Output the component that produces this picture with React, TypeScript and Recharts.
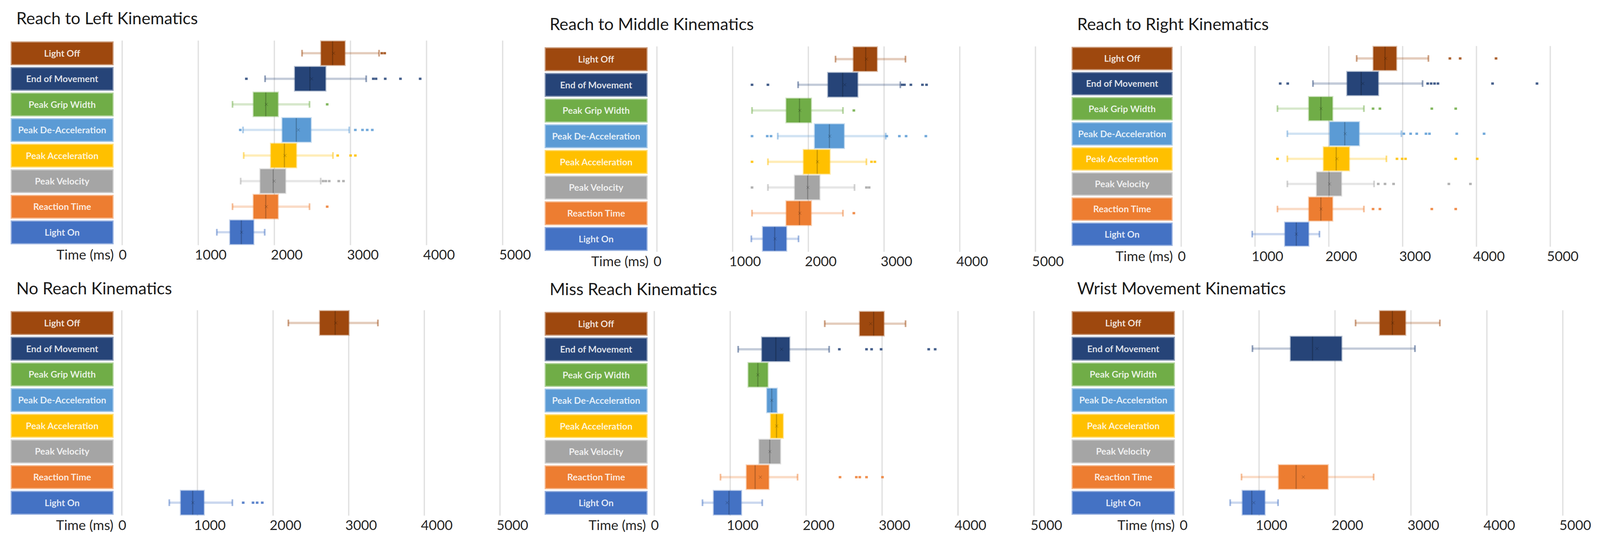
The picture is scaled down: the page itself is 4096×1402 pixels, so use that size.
import React from 'react';
import { ComposedChart, Bar, XAxis, YAxis, CartesianGrid } from 'recharts';

// everything is laid out in reference pixels, then scaled to the window
const S = 0.973;
const FONT = 'Lato, "Open Sans", sans-serif';

const CATEGORIES = [
  'Light Off',
  'End of Movement',
  'Peak Grip Width',
  'Peak De-Acceleration',
  'Peak Acceleration',
  'Peak Velocity',
  'Reaction Time',
  'Light On',
];
const COLORS = ['#9E480E', '#264478', '#70AD47', '#5B9BD5', '#FFC000', '#A5A5A5', '#ED7D31', '#4472C4'];
const TICKS = [0, 1000, 2000, 3000, 4000, 5000];

// [min, q1, median, q3, max] per category, null where the panel has no box
type Five = [number, number, number, number, number] | null;

const leftStats: Five[] = [
  [2364, 2614, 2765, 2926, 3376],
  [1878, 2270, 2467, 2672, 3207],
  [1450, 1726, 1887, 2047, 2462],
  [1588, 2105, 2288, 2480, 2984],
  [1597, 1954, 2132, 2288, 2770],
  [1557, 1815, 1985, 2145, 2609],
  [1450, 1726, 1887, 2047, 2462],
  [1244, 1418, 1566, 1726, 1873],
];
const leftMeans = [2779, 2489, 1895, 2315, 2140, 1998, 1895, 1570];
const leftOutliers = [
  [3412, 3450],
  [1632, 3300, 3336, 3457, 3657, 3916],
  [2694],
  [1552, 3064, 3158, 3220, 3287],
  [2832, 3002, 3064],
  [2640, 2676, 2721, 2846, 2908],
  [2694],
  [],
];

const middleStats: Five[] = [
  [2359, 2596, 2758, 2906, 3283],
  [1865, 2260, 2453, 2650, 3215],
  [1256, 1709, 1883, 2036, 2457],
  [1596, 2085, 2278, 2471, 3022],
  [1466, 1937, 2117, 2283, 2767],
  [1466, 1821, 1991, 2148, 2610],
  [1256, 1709, 1883, 2036, 2457],
  [1247, 1399, 1556, 1709, 1870],
];
const middleMeans = [2767, 2480, 1887, 2283, 2122, 1995, 1887, 1560];
const middleOutliers = [
  [],
  [1256, 1466, 3238, 3269, 3354, 3507, 3561],
  [2601],
  [1256, 1457, 1507, 3036, 3202, 3291, 3552],
  [1256, 2834, 2879],
  [1256, 2767, 2803],
  [2601],
  [],
];

const rightStats: Five[] = [
  [2377, 2604, 2761, 2914, 3349],
  [1785, 2248, 2438, 2669, 3270],
  [1304, 1730, 1892, 2049, 2475],
  [1438, 2012, 2216, 2410, 2983],
  [1438, 1929, 2100, 2276, 2780],
  [1438, 1836, 2003, 2169, 2613],
  [1304, 1730, 1892, 2049, 2475],
  [962, 1406, 1559, 1725, 1873],
];
const rightMeans = [2770, 2460, 1895, 2222, 2110, 2010, 1895, 1560];
const rightOutliers = [
  [3640, 3779, 4265],
  [1341, 1443, 3339, 3386, 3432, 3478, 4218, 4820],
  [2599, 2692, 3395, 3719],
  [3016, 3108, 3191, 3316, 3363, 3733, 4103],
  [1304, 2923, 2993, 3039, 3719, 4010],
  [2669, 2761, 2877, 3626, 3918],
  [2599, 2692, 3395, 3719],
  [],
];

const noReachStats: Five[] = [
  [2202, 2619, 2821, 3000, 3386],
  null,
  null,
  null,
  null,
  null,
  null,
  [628, 780, 937, 1085, 1462],
];
const noReachMeans = [2830, null, null, null, null, null, null, 940];
const noReachOutliers = [[], [], [], [], [], [], [], [1605, 1735, 1789, 1857]];

const missStats: Five[] = [
  [2245, 2706, 2889, 3023, 3309],
  [1105, 1418, 1601, 1780, 2303],
  [1239, 1239, 1364, 1494, 1494],
  [1485, 1485, 1547, 1614, 1614],
  [1534, 1534, 1610, 1695, 1695],
  [1382, 1382, 1521, 1659, 1659],
  [872, 1216, 1328, 1507, 1887],
  [635, 783, 984, 1145, 1422],
];
const missMeans = [2850, 1677, 1364, 1547, 1612, 1522, 1397, 960];
const missOutliers = [
  [],
  [2437, 2795, 2862, 2987, 3614, 3699],
  [],
  [],
  [],
  [],
  [2446, 2661, 2706, 2795, 3005],
  [],
];

const wristStats: Five[] = [
  [2271, 2590, 2756, 2927, 3381],
  [913, 1416, 1704, 2086, 3053],
  null,
  null,
  null,
  null,
  [769, 1259, 1488, 1906, 2509],
  [620, 782, 904, 1075, 1250],
];
const wristMeans = [2760, 1763, null, null, null, null, 1583, 930];
const wristOutliers = [[], [], [], [], [], [], [], []];

interface Panel {
  title: string;
  stats: Five[];
  means: (number | null)[];
  outliers: number[][];
  titleX: number;
  titleY: number;
  plotL: number;
  plotR: number;
  labelTop: number;
  labelBottom: number;
  labelRight: number;
  labelW: number;
}

const PANELS: Panel[] = [
  { title: 'Reach to Left Kinematics', stats: leftStats, means: leftMeans, outliers: leftOutliers,
    titleX: 43, titleY: 47, plotL: 321, plotR: 1322, labelTop: 111, labelBottom: 641, labelRight: 297, labelW: 268 },
  { title: 'Reach to Middle Kinematics', stats: middleStats, means: middleMeans, outliers: middleOutliers,
    titleX: 1446, titleY: 63, plotL: 1728, plotR: 2724, labelTop: 126, labelBottom: 658, labelRight: 1702, labelW: 268 },
  { title: 'Reach to Right Kinematics', stats: rightStats, means: rightMeans, outliers: rightOutliers,
    titleX: 2834, titleY: 63, plotL: 3108, plotR: 4079, labelTop: 125, labelBottom: 645, labelRight: 3084, labelW: 263 },
  { title: 'No Reach Kinematics', stats: noReachStats, means: noReachMeans, outliers: noReachOutliers,
    titleX: 43, titleY: 757, plotL: 320, plotR: 1315, labelTop: 820, labelBottom: 1352, labelRight: 297, labelW: 268 },
  { title: 'Miss Reach Kinematics', stats: missStats, means: missMeans, outliers: missOutliers,
    titleX: 1446, titleY: 759, plotL: 1721, plotR: 2720, labelTop: 822, labelBottom: 1352, labelRight: 1702, labelW: 268 },
  { title: 'Wrist Movement Kinematics', stats: wristStats, means: wristMeans, outliers: wristOutliers,
    titleX: 2834, titleY: 757, plotL: 3113, plotR: 4112, labelTop: 820, labelBottom: 1352, labelRight: 3090, labelW: 269 },
];

const tint = (hex: string, t: number) => {
  const n = parseInt(hex.slice(1), 16);
  const mix = (c: number) => Math.round(c + (255 - c) * t);
  return `rgb(${mix((n >> 16) & 255)},${mix((n >> 8) & 255)},${mix(n & 255)})`;
};

const buildRows = (panel: Panel) =>
  CATEGORIES.map((name, idx) => {
    const st = panel.stats[idx];
    if (!st) return { name, idx };
    const out = panel.outliers[idx];
    const all = [...st, ...out];
    return {
      name,
      idx,
      min: st[0],
      q1: st[1],
      median: st[2],
      q3: st[3],
      max: st[4],
      mean: panel.means[idx],
      outliers: out,
      lo: Math.min(...all),
      hi: Math.max(...all),
    };
  });

const BoxShape = (props: any) => {
  const { x, y, width, height, payload } = props;
  if (!payload || payload.lo == null || !Number.isFinite(width) || !Number.isFinite(x)) return <g />;
  const color = COLORS[payload.idx];
  const span = payload.hi - payload.lo;
  const px = (v: number) => (span === 0 ? x : x + ((v - payload.lo) / span) * width);
  const cy = y + height / 2;
  const capH = height * 0.28;
  const x1 = px(payload.q1);
  const x3 = px(payload.q3);
  const xm = px(payload.median);
  const mk = 4 * S;
  return (
    <g>
      {payload.min < payload.q1 && (
        <>
          <line x1={px(payload.min)} x2={x1} y1={cy} y2={cy} stroke={color} strokeOpacity={0.28} strokeWidth={6 * S} />
          <line x1={px(payload.min)} x2={px(payload.min)} y1={cy - capH / 2} y2={cy + capH / 2}
            stroke={color} strokeOpacity={0.5} strokeWidth={4.5 * S} />
        </>
      )}
      {payload.max > payload.q3 && (
        <>
          <line x1={x3} x2={px(payload.max)} y1={cy} y2={cy} stroke={color} strokeOpacity={0.28} strokeWidth={6 * S} />
          <line x1={px(payload.max)} x2={px(payload.max)} y1={cy - capH / 2} y2={cy + capH / 2}
            stroke={color} strokeOpacity={0.5} strokeWidth={4.5 * S} />
        </>
      )}
      <rect x={x1} y={y} width={x3 - x1} height={height} fill={color}
        stroke={color} strokeOpacity={0.35} strokeWidth={5 * S} />
      <line x1={xm} x2={xm} y1={y} y2={y + height} stroke="#000" strokeOpacity={0.22} strokeWidth={3 * S} />
      {payload.mean != null && (
        <g stroke="#000" strokeOpacity={0.18} strokeWidth={1.5 * S}>
          <line x1={px(payload.mean) - mk} x2={px(payload.mean) + mk} y1={cy - mk} y2={cy + mk} />
          <line x1={px(payload.mean) - mk} x2={px(payload.mean) + mk} y1={cy + mk} y2={cy - mk} />
        </g>
      )}
      {payload.outliers.map((v: number, i: number) => (
        <rect key={i} x={px(v) - 3.5 * S} y={cy - 3 * S} width={7 * S} height={6 * S} fill={color} fillOpacity={0.85} />
      ))}
    </g>
  );
};

const KinematicsPanel = ({ panel }: { panel: Panel }) => {
  const pitch = (panel.labelBottom - panel.labelTop) / 7.88;
  const plotTop = panel.labelTop - 0.06 * pitch;
  const plotBottom = panel.labelBottom + 0.06 * pitch;
  const left = panel.labelRight - panel.labelW - 12;
  const top = plotTop - 12;
  const rightPad = 90;
  const axisH = 60;
  const width = (panel.plotR + rightPad - left) * S;
  const height = (plotBottom + axisH - top) * S;
  const gap = panel.plotL - panel.labelRight;
  const labelH = 0.89 * pitch * S;
  const rows = buildRows(panel);

  const renderLabel = (p: any) => {
    const i = CATEGORIES.indexOf(p.payload.value);
    const color = COLORS[i];
    const rx = p.x - (gap + panel.labelW) * S;
    const w = panel.labelW * S;
    return (
      <g>
        <rect x={rx} y={p.y - labelH / 2} width={w} height={labelH} fill={color}
          stroke={tint(color, 0.45)} strokeWidth={3 * S} />
        <text x={rx + w / 2} y={p.y + 24 * S * 0.36} textAnchor="middle" fill="#fff" fillOpacity={0.85}
          fontFamily={FONT} fontWeight={700} fontSize={24 * S}>
          {p.payload.value}
        </text>
      </g>
    );
  };

  const renderTick = (p: any) => {
    const fs = 36 * S;
    const base = p.y + 25 * S + fs * 0.36;
    return (
      <g>
        {p.payload.value === 0 && (
          <text x={p.x - 22 * S} y={base} textAnchor="end" fill="#262626" fontFamily={FONT} fontSize={fs}>
            Time (ms)
          </text>
        )}
        <text x={p.x - 9 * S} y={base} textAnchor="start" fill="#262626" fontFamily={FONT} fontSize={fs}>
          {p.payload.value}
        </text>
      </g>
    );
  };

  return (
    <>
      <div
        style={{
          position: 'absolute',
          left: panel.titleX * S,
          top: panel.titleY * S,
          transform: 'translateY(-50%)',
          fontSize: 44 * S,
          lineHeight: 1,
          whiteSpace: 'nowrap',
          color: '#1a1a1a',
          fontFamily: FONT,
        }}
      >
        {panel.title}
      </div>
      <div style={{ position: 'absolute', left: left * S, top: top * S }}>
        <ComposedChart
          width={width}
          height={height}
          data={rows}
          layout="vertical"
          margin={{ top: 12 * S, right: rightPad * S, bottom: 0, left: 0 }}
        >
          <CartesianGrid horizontal={false} stroke="#E1E1E1" strokeWidth={3.5 * S} />
          <XAxis
            type="number"
            domain={[0, 5000]}
            ticks={TICKS}
            interval={0}
            axisLine={false}
            tickLine={false}
            tickSize={0}
            tickMargin={0}
            height={axisH * S}
            tick={renderTick}
          />
          <YAxis
            type="category"
            dataKey="name"
            width={(panel.plotL - left) * S}
            interval={0}
            axisLine={false}
            tickLine={false}
            tickSize={0}
            tickMargin={0}
            tick={renderLabel}
          />
          <Bar
            dataKey={(d: any) => (d.lo == null ? null : [d.lo, d.hi])}
            barSize={0.93 * pitch * S}
            shape={(p: any) => <BoxShape {...p} />}
            isAnimationActive={false}
          />
        </ComposedChart>
      </div>
    </>
  );
};

export default function App() {
  return (
    <div
      style={{
        position: 'absolute',
        left: 0,
        top: 0,
        width: 4096,
        height: 1402,
        background: '#fff',
        overflow: 'hidden',
        fontFamily: FONT,
      }}
    >
      {PANELS.map((panel) => (
        <KinematicsPanel key={panel.title} panel={panel} />
      ))}
    </div>
  );
}
